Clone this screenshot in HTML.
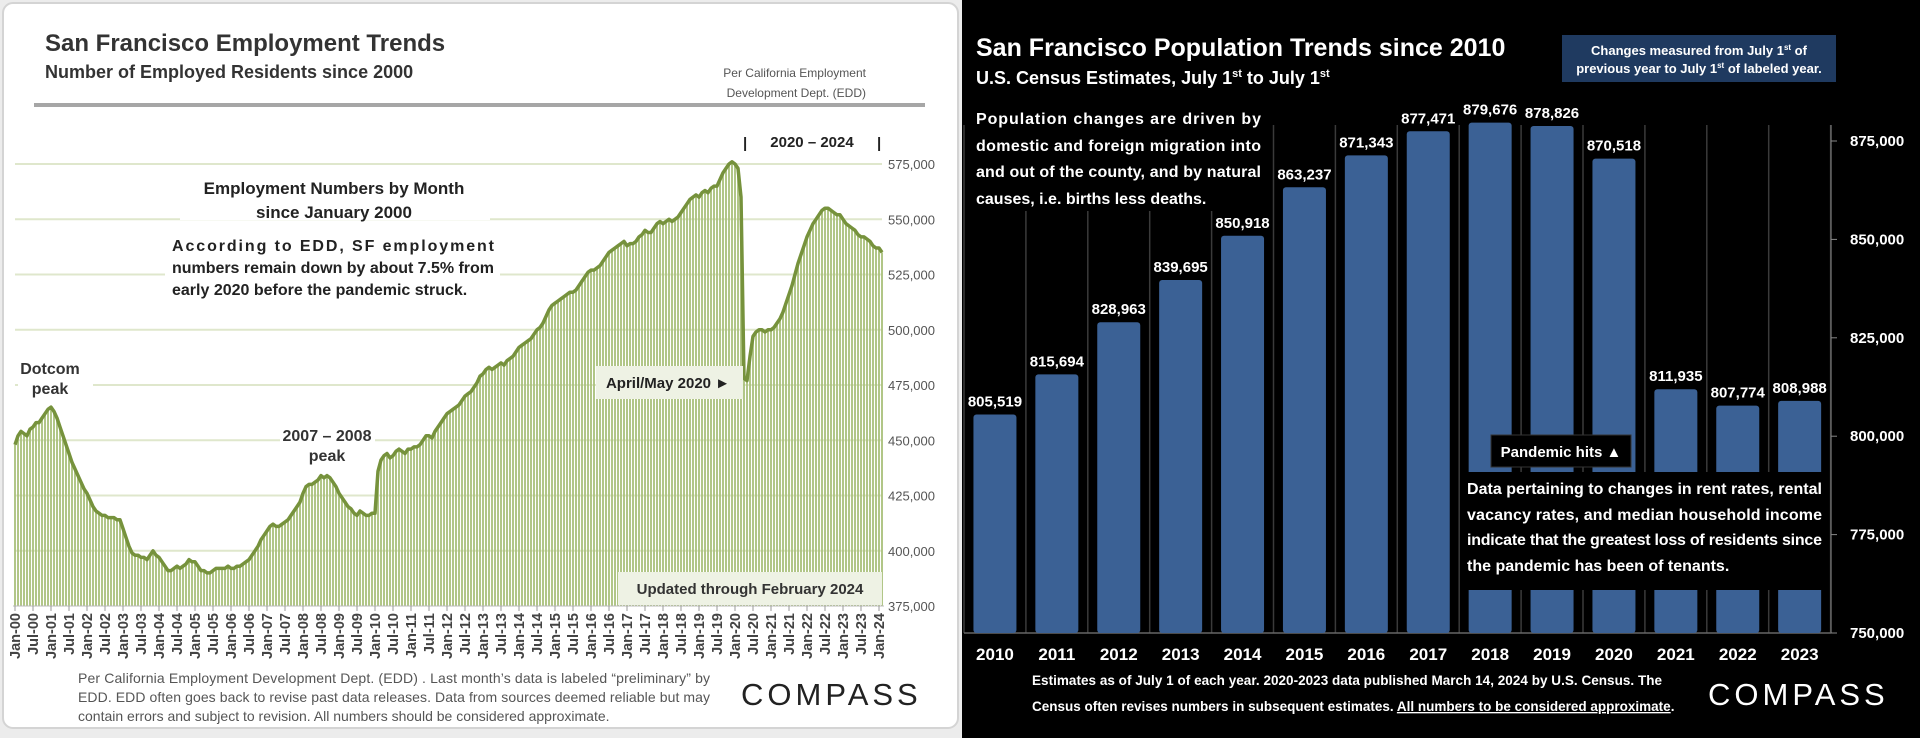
<!DOCTYPE html>
<html><head><meta charset="utf-8">
<style>
html,body{margin:0;padding:0;width:1920px;height:738px;overflow:hidden;background:#000;}
svg{display:block;font-family:"Liberation Sans Narrow","Liberation Sans",sans-serif;}
</style></head>
<body>
<svg id="root" width="1920" height="738" viewBox="0 0 1920 738">
  <!-- Left panel -->
  <rect x="0" y="0" width="962" height="738" fill="#ececec"/>
  <rect x="3" y="3" width="955" height="725" rx="10" fill="#fff" stroke="#d4d4d4" stroke-width="2"/>
  <text x="45" y="51" font-size="24" font-weight="bold" fill="#333">San Francisco Employment Trends</text>
  <text x="45" y="78" font-size="18" font-weight="bold" fill="#333">Number of Employed Residents since 2000</text>
  <text x="866" y="77" font-size="12" fill="#555" text-anchor="end">Per California Employment</text>
  <text x="866" y="97" font-size="12" fill="#555" text-anchor="end">Development Dept. (EDD)</text>
  <rect x="34" y="103" width="891" height="4" fill="#a6a6a6"/>
  <g id="empGrid"></g>
  <g id="empBars"></g>
  <path id="empLine" fill="none" stroke="#76923c" stroke-width="3.5" stroke-linejoin="round"/>
  <g id="empYAxis"></g>
  <g id="empXAxis"></g>
  <!-- annotations -->
  <text x="743" y="148" font-size="15" font-weight="bold" fill="#222">|</text>
  <text x="812" y="147" font-size="15" font-weight="bold" fill="#222" text-anchor="middle">2020 – 2024</text>
  <text x="877" y="148" font-size="15" font-weight="bold" fill="#222">|</text>
  <rect x="180" y="172" width="310" height="48" fill="#fff"/>
  <text x="334" y="194" font-size="17" font-weight="bold" fill="#222" text-anchor="middle">Employment Numbers by Month</text>
  <text x="334" y="218" font-size="17" font-weight="bold" fill="#222" text-anchor="middle">since January 2000</text>
  <rect x="165" y="228" width="335" height="70" fill="#fff"/>
  <text font-size="16" font-weight="bold" fill="#222">
    <tspan x="172" y="251" textLength="322" lengthAdjust="spacing">According to EDD, SF employment</tspan>
    <tspan x="172" y="273" textLength="322" lengthAdjust="spacing">numbers remain down by about 7.5% from</tspan>
    <tspan x="172" y="295">early 2020 before the pandemic struck.</tspan>
  </text>
  <rect x="18" y="355" width="75" height="46" fill="#fff"/>
  <text x="50" y="374" font-size="16" font-weight="bold" fill="#333" text-anchor="middle">Dotcom</text>
  <text x="50" y="394" font-size="16" font-weight="bold" fill="#333" text-anchor="middle">peak</text>
  <rect x="280" y="422" width="95" height="45" fill="#fff"/>
  <text x="327" y="441" font-size="16" font-weight="bold" fill="#333" text-anchor="middle">2007 – 2008</text>
  <text x="327" y="461" font-size="16" font-weight="bold" fill="#333" text-anchor="middle">peak</text>
  <rect x="596" y="366" width="147" height="33" fill="#eef2e4"/>
  <text x="668" y="388" font-size="15" font-weight="bold" fill="#222" text-anchor="middle">April/May 2020 ►</text>
  <rect x="618" y="572" width="264" height="33" fill="#eef2e4"/>
  <text x="750" y="594" font-size="15" font-weight="bold" fill="#333" text-anchor="middle">Updated through February 2024</text>
  <text font-size="14" fill="#555">
    <tspan x="78" y="683" textLength="632" lengthAdjust="spacing">Per California Employment Development Dept. (EDD) . Last month’s data is labeled “preliminary” by</tspan>
    <tspan x="78" y="702" textLength="632" lengthAdjust="spacing">EDD. EDD often goes back to revise past data releases. Data from sources deemed reliable but may</tspan>
    <tspan x="78" y="721">contain errors and subject to revision. All numbers should be considered approximate.</tspan>
  </text>
  <text x="741" y="705" font-size="31" fill="#222" letter-spacing="4" font-family="Liberation Sans, sans-serif">COMPASS</text>

  <!-- Right panel -->
  <rect x="962" y="0" width="958" height="738" fill="#000"/>
  <text x="976" y="56" font-size="25" font-weight="bold" fill="#fff">San Francisco Population Trends since 2010</text>
  <text x="976" y="84" font-size="18" font-weight="bold" fill="#fff">U.S. Census Estimates, July 1<tspan font-size="11" dy="-7">st</tspan><tspan dy="7"> to July 1</tspan><tspan font-size="11" dy="-7">st</tspan></text>
  <rect x="1562" y="35" width="274" height="47" fill="#1f3a60"/>
  <text x="1699" y="55" font-size="13" font-weight="bold" fill="#fff" text-anchor="middle">Changes measured from July 1<tspan font-size="8" dy="-5">st</tspan><tspan dy="5"> of</tspan></text>
  <text x="1699" y="73" font-size="13" font-weight="bold" fill="#fff" text-anchor="middle">previous year to July 1<tspan font-size="8" dy="-5">st</tspan><tspan dy="5"> of labeled year.</tspan></text>
  <g id="popGrid"></g>
  <g id="popBars"></g>
  <rect x="968" y="104" width="296" height="107" fill="#000"/>
  <g id="popLabels"></g>
  <g id="popYAxis"></g>
  <g id="popXAxis"></g>
  <text font-size="16" font-weight="bold" fill="#fff">
    <tspan x="976" y="124" textLength="285" lengthAdjust="spacing">Population changes are driven by</tspan>
    <tspan x="976" y="151" textLength="285" lengthAdjust="spacing">domestic and foreign migration into</tspan>
    <tspan x="976" y="177" textLength="285" lengthAdjust="spacing">and out of the county, and by natural</tspan>
    <tspan x="976" y="204">causes, i.e. births less deaths.</tspan>
  </text>
  <rect x="1491" y="435" width="140" height="32" fill="#000" stroke="#333" stroke-width="1"/>
  <text x="1561" y="457" font-size="15" font-weight="bold" fill="#fff" text-anchor="middle">Pandemic hits ▲</text>
  <rect x="1460" y="472" width="368" height="118" fill="#000"/>
  <text font-size="16" font-weight="bold" fill="#fff">
    <tspan x="1467" y="494" textLength="355" lengthAdjust="spacing">Data pertaining to changes in rent rates, rental</tspan>
    <tspan x="1467" y="520" textLength="355" lengthAdjust="spacing">vacancy rates, and  median household income</tspan>
    <tspan x="1467" y="545" textLength="355" lengthAdjust="spacing">indicate that the greatest loss of residents since</tspan>
    <tspan x="1467" y="571">the pandemic has been of tenants.</tspan>
  </text>
  <text font-size="13.5" font-weight="bold" fill="#fff">
    <tspan x="1032" y="685" textLength="630" lengthAdjust="spacing">Estimates as of July 1 of each year. 2020-2023 data published March 14, 2024 by U.S. Census. The</tspan>
    <tspan x="1032" y="711">Census often revises numbers in subsequent estimates. <tspan text-decoration="underline">All numbers to be considered approximate</tspan>.</tspan>
  </text>
  <text x="1708" y="705" font-size="31" fill="#fff" letter-spacing="4" font-family="Liberation Sans, sans-serif">COMPASS</text>
</svg>
<script>
// ---- Employment chart data (thousands, monthly Jan-2000 .. Feb-2024)
const empYears = [2000,2001,2002,2003,2004,2005,2006,2007,2008,2009,2010,2011,2012,2013,2014,2015,2016,2017,2018,2019,2020,2021,2022,2023,2024];
const emp2000s = [
448,452,454,453,452,455,456,458,458,460,462,464,
465,463,460,456,452,448,444,440,437,434,431,428,
426,423,420,418,417,416,416,415,415,415,414,414,
410,406,402,399,398,398,397,397,396,398,400,398,
397,395,393,391,391,392,393,392,393,394,396,395,
395,393,391,391,390,390,391,392,392,392,392,393,
392,392,393,393,394,395,396,398,400,402,405,407,
409,411,412,411,411,412,413,414,416,418,420,422,
426,429,430,430,431,432,434,433,434,433,431,429,
426,424,422,420,419,417,416,418,417,416,416,417];
const emp2010s = [
417,436,441,443,444,442,443,445,446,445,444,446,
446,447,447,448,450,452,452,451,454,456,458,460,
462,463,464,465,466,468,470,471,472,474,476,479,
480,482,483,482,483,484,485,484,486,487,488,490,
492,493,494,495,496,498,500,501,503,506,509,511,
512,513,514,515,516,517,517,518,520,522,524,526,
527,527,528,529,531,533,535,536,537,538,539,540,
538,539,539,540,542,543,545,544,544,546,548,549,
548,549,550,549,550,551,553,555,557,559,560,561,
560,562,563,562,564,565,565,568,571,573,575,576];
const emp2020s = [
575,573,560,478,477,488,497,499,500,500,499,500,
500,501,503,505,508,512,516,520,525,530,534,538,
542,545,548,550,552,554,555,555,554,553,552,552,
550,548,547,546,545,543,542,542,541,540,538,537,
537,535];
const empValues = emp2000s.concat(emp2010s, emp2020s);
const empTicks = [375,400,425,450,475,500,525,550,575];
const monthNames = ["Jan","Jul"];

// ---- Population chart data
const popYears = ["2010","2011","2012","2013","2014","2015","2016","2017","2018","2019","2020","2021","2022","2023"];
const popValues = [805519,815694,828963,839695,850918,863237,871343,877471,879676,878826,870518,811935,807774,808988];
const popTicks = [750000,775000,800000,825000,850000,875000];

const NS = "http://www.w3.org/2000/svg";
function mk(tag, attrs, parent){ const e=document.createElementNS(NS,tag); for(const k in attrs) e.setAttribute(k,attrs[k]); parent.appendChild(e); return e; }

// Employment axes
const eX0 = 15, eStep = 3.0, eBase = 606;
function ex(i){ return eX0 + i*eStep; }
function ey(v){ return eBase - (v-375)/25*55.25; }

const grid = document.getElementById('empGrid');
empTicks.forEach(t=>{
  if(t===375) return;
  const l = mk('line',{x1:15,x2:882,y1:ey(t),y2:ey(t),stroke:'#dfe7cc','stroke-width':2},grid);
  
  
});
const yax = document.getElementById('empYAxis');
empTicks.forEach(t=>{
  const tx = mk('text',{x:888,y:ey(t)+5,'font-size':13,fill:'#555'},yax);
  tx.textContent = t.toLocaleString('en-US')+',000';
  
  
});
const bars = document.getElementById('empBars');
let d = '';
empValues.forEach((v,i)=>{
  const b = mk('rect',{x:ex(i)-0.9,y:ey(v),width:1.8,height:eBase-ey(v),fill:'#a9c07a'},bars);
  
  
  d += (i?'L':'M')+ex(i).toFixed(1)+' '+ey(v).toFixed(1);
});
document.getElementById('empLine').setAttribute('d', d);
const xax = document.getElementById('empXAxis');
mk('line',{x1:13,x2:884,y1:eBase,y2:eBase,stroke:'#bbb','stroke-width':1},xax);
for(let i=0;i<empValues.length;i+=6){
  const yr = empYears[Math.floor(i/12)];
  const lab = monthNames[(i%12)/6] + '-' + String(yr%100).padStart(2,'0');
  const x = ex(i);
  mk('line',{x1:x,x2:x,y1:eBase,y2:eBase+5,stroke:'#999'},xax);
  const t = mk('text',{x:0,y:0,'font-size':14.5,fill:'#444','font-weight':'bold','text-anchor':'end',transform:`translate(${x+5},${eBase+7}) rotate(-90)`},xax);
  t.textContent = lab;
  
  
}

// Population axes
const pX0 = 964, pBand = 61.9, pBase = 633;
function px(i){ return pX0 + pBand*i + pBand/2; }
function py(v){ return pBase - (v-750000)/25000*98.4; }
const pg = document.getElementById('popGrid');
for(let i=0;i<=popYears.length;i++){
  const l = mk('line',{x1:pX0+pBand*i,x2:pX0+pBand*i,y1:125,y2:pBase,stroke:'#3a3a3a','stroke-width':1.5},pg);
  
  
}
mk('line',{x1:pX0,x2:1831,y1:pBase,y2:pBase,stroke:'#666','stroke-width':1.5},pg);
const pb = document.getElementById('popBars'), pl = document.getElementById('popLabels');
popValues.forEach((v,i)=>{
  const b = mk('rect',{x:px(i)-21.5,y:py(v),width:43,height:pBase-py(v),rx:3,fill:'#3b6195'},pb);
  
  
  const t = mk('text',{x:px(i),y:py(v)-8,'font-size':15,'font-weight':'bold',fill:'#fff','text-anchor':'middle'},pl);
  t.textContent = v.toLocaleString('en-US');
  
  
});
const pya = document.getElementById('popYAxis');
mk('line',{x1:1831,x2:1831,y1:125,y2:pBase,stroke:'#666','stroke-width':1.5},pya);
popTicks.forEach(t=>{
  mk('line',{x1:1831,x2:1837,y1:py(t),y2:py(t),stroke:'#888'},pya);
  const tx = mk('text',{x:1850,y:py(t)+5,'font-size':15,'font-weight':'bold',fill:'#fff'},pya);
  tx.textContent = t.toLocaleString('en-US');
  
  
});
const pxa = document.getElementById('popXAxis');
popYears.forEach((y,i)=>{
  const t = mk('text',{x:px(i),y:660,'font-size':17,'font-weight':'bold',fill:'#fff','text-anchor':'middle'},pxa);
  t.textContent = y;
  
  
});
</script>
</body></html>
